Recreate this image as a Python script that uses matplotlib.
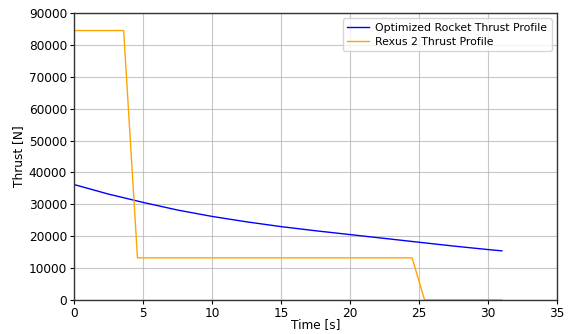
import matplotlib
matplotlib.use("Agg")
import matplotlib.pyplot as plt

# Optimized thrust curve
opt_time = [0, 2.5, 5, 7.5, 10, 12.5, 15, 17.5, 20, 22.5, 25, 27.5, 30, 31]
opt_thrust = [36200, 33200, 30600, 28200, 26200, 24500, 23000, 21700, 20500, 19300, 18100, 16900, 15800, 15400]

# Rexus 2 reference profile
rexus_time = [0, 3.6, 4.6, 24.5, 25.4, 31]
rexus_thrust = [84500, 84500, 13200, 13200, 0, 0]

plt.rcParams["font.size"] = 8.7

fig = plt.figure(figsize=(5.69, 3.34), dpi=100)
ax = fig.add_axes([0.130, 0.102, 0.849, 0.859])

ax.plot(opt_time, opt_thrust, color="blue", linewidth=1, label="Optimized Rocket Thrust Profile")
ax.plot(rexus_time, rexus_thrust, color="orange", linewidth=1, label="Rexus 2 Thrust Profile")

ax.set_xlim(0, 35)
ax.set_ylim(0, 90000)
ax.set_xlabel("Time [s]", labelpad=-1)
ax.set_ylabel("Thrust [N]", labelpad=3)
ax.grid(True, color="#b0b0b0", linewidth=0.8, alpha=0.7)
for s in ax.spines.values():
    s.set_color("#333333")
    s.set_linewidth(1.0)
ax.tick_params(length=3, width=0.8, pad=2)
ax.legend(loc="upper right", fontsize=7.8, borderpad=0.4, handlelength=2.0,
          handletextpad=0.6, labelspacing=0.4, borderaxespad=0.5)

fig.savefig("out.png", dpi=100)
